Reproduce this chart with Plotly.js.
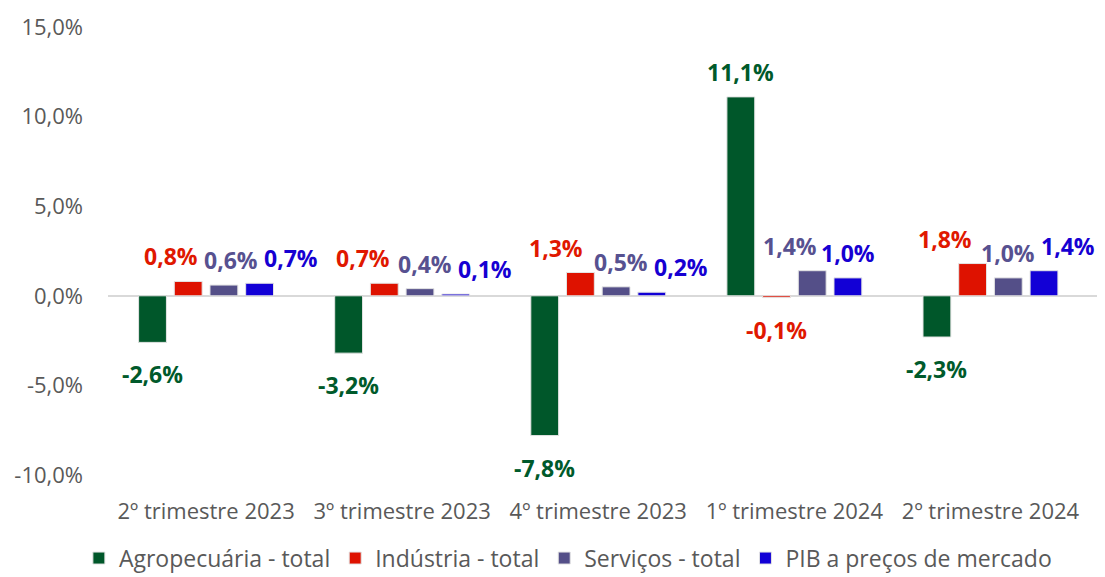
<!DOCTYPE html>
<html>
<head>
<meta charset="utf-8">
<script src="https://cdn.plot.ly/plotly-3.0.1.min.js"></script>
<style>html,body{margin:0;padding:0;background:#fff;}#chart{width:1105px;height:577px;}</style>
</head>
<body>
<div id="chart"></div>
<script>
// ---- data ----
var categories = ["2º trimestre 2023", "3º trimestre 2023", "4º trimestre 2023", "1º trimestre 2024", "2º trimestre 2024"];
var seriesNames = ["Agropecuária - total", "Indústria - total", "Serviços - total", "PIB a preços de mercado"];
var agro = [-2.6, -3.2, -7.8, 11.1, -2.3];
var industria = [0.8, 0.7, 1.3, -0.1, 1.8];
var servicos = [0.6, 0.4, 0.5, 1.4, 1.0];
var pib = [0.7, 0.1, 0.2, 1.0, 1.4];
var yTickVals = [-10, -5, 0, 5, 10, 15];

// ---- style ----
var barColors = ["#00572A", "#DE1200", "#544F88", "#1200D6"];
var labelColors = ["#005A2B", "#E01800", "#575190", "#1600D2"];
// horizontal label nudges (px) to avoid overlapping labels, as in the original
var labelNudge = [
  [0, 0, 0, 0, 0],
  [-17, -21, -24, 0, -28],
  [7, 5, 5, -22, 0],
  [31, 29, 29, 0, 24]
];
var bargap = 0.272;
var FONT = "'Open Sans', 'Noto Sans', sans-serif";

function fmt(v) {
  return v.toFixed(1).replace('.', ',') + '%';
}

var allSeries = [agro, industria, servicos, pib];
var traces = allSeries.map(function (vals, j) {
  return {
    type: 'bar',
    name: seriesNames[j],
    x: categories,
    y: vals,
    marker: { color: barColors[j], line: { color: '#e4e4e4', width: 1 } },
    hoverinfo: 'skip'
  };
});

var slot = (1 - bargap) / allSeries.length;
var annotations = [];
allSeries.forEach(function (vals, j) {
  vals.forEach(function (v, i) {
    annotations.push({
      x: i + (j - (allSeries.length - 1) / 2) * slot,
      y: v,
      xref: 'x', yref: 'y',
      text: '<b>' + fmt(v) + '</b>',
      showarrow: false,
      xanchor: 'center',
      yanchor: v >= 0 ? 'bottom' : 'top',
      yshift: v >= 0 ? 7 : -14,
      xshift: labelNudge[j][i],
      font: { family: FONT, size: 23, color: labelColors[j] }
    });
  });
});

var layout = {
  width: 1105, height: 577,
  margin: { l: 108, r: 8, t: 27, b: 102, autoexpand: false },
  paper_bgcolor: '#ffffff', plot_bgcolor: '#ffffff',
  barmode: 'group',
  bargap: bargap,
  bargroupgap: 0.22,
  showlegend: true,
  legend: {
    orientation: 'h', x: 0.465, xanchor: 'center',
    yref: 'container', y: 0.07, yanchor: 'top',
    font: { family: FONT, size: 23, color: '#595959' },
    itemclick: false, itemdoubleclick: false
  },
  xaxis: {
    type: 'category', automargin: false,
    showgrid: false, zeroline: false, showline: false,
    ticks: '',
    tickfont: { family: FONT, size: 22, color: '#595959' },
    ticklabelstandoff: 21
  },
  yaxis: {
    range: [-10, 15], automargin: false,
    tickvals: yTickVals,
    ticktext: yTickVals.map(fmt),
    showgrid: false,
    zeroline: true, zerolinecolor: '#d9d9d9', zerolinewidth: 2,
    showline: false, ticks: '',
    tickfont: { family: FONT, size: 22, color: '#595959' },
    ticklabelstandoff: 24
  },
  annotations: annotations,
  font: { family: FONT }
};

Plotly.newPlot('chart', traces, layout, { staticPlot: true, displayModeBar: false });
</script>
</body>
</html>
